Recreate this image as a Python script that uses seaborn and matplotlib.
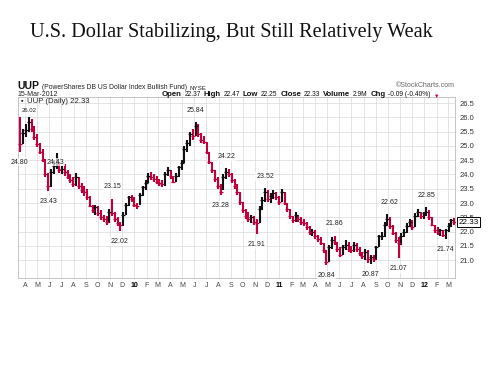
import pandas as pd
import numpy as np
import matplotlib
matplotlib.use("Agg")
import matplotlib.pyplot as plt
import seaborn as sns

# ── Données (barres hebdo) ────────────────────────────────────
hauts = [26.02, 25.60, 25.75, 26.00, 25.95, 25.70, 25.40, 25.10, 24.90, 24.55,
         24.05, 24.20, 24.50, 24.74, 24.45, 24.30, 24.35, 24.15, 24.00, 23.90,
         24.05, 23.90, 23.70, 23.60, 23.50, 23.25, 22.95, 22.95, 22.90, 22.75,
         22.60, 22.55, 22.80, 23.15, 22.70, 22.50, 22.35, 22.70, 23.00, 23.25,
         23.30, 23.20, 23.00, 23.35, 23.60, 23.80, 24.05, 24.10, 24.00, 23.95,
         23.85, 23.80, 24.10, 24.25, 24.15, 23.95, 24.05, 24.30, 24.50, 25.00,
         25.20, 25.50, 25.60, 25.84, 25.75, 25.45, 25.35, 25.15, 24.80, 24.45,
         24.15, 23.90, 23.65, 24.00, 24.22, 24.20, 24.05, 23.85, 23.65, 23.40,
         23.05, 22.80, 22.70, 22.60, 22.55, 22.45, 22.90, 23.20, 23.52, 23.45,
         23.35, 23.45, 23.40, 23.25, 23.50, 23.40, 23.00, 22.80, 22.55, 22.70,
         22.60, 22.50, 22.45, 22.35, 22.20, 22.10, 22.05, 21.90, 21.80, 21.60,
         21.35, 21.55, 21.80, 21.86, 21.65, 21.45, 21.55, 21.70, 21.65, 21.50,
         21.65, 21.60, 21.45, 21.30, 21.40, 21.35, 21.20, 21.20, 21.50, 21.90,
         22.00, 22.35, 22.62, 22.50, 22.25, 22.00, 21.80, 21.95, 22.10, 22.30,
         22.45, 22.40, 22.65, 22.80, 22.70, 22.70, 22.85, 22.75, 22.50, 22.25,
         22.15, 22.10, 22.05, 22.10, 22.30, 22.45, 22.47]
bas = [24.80, 25.05, 25.30, 25.50, 25.50, 25.20, 24.95, 24.70, 24.43, 23.90,
       23.43, 23.55, 24.00, 24.20, 24.05, 24.00, 23.95, 23.85, 23.70, 23.55,
       23.60, 23.50, 23.35, 23.25, 23.10, 22.85, 22.65, 22.60, 22.55, 22.40,
       22.35, 22.25, 22.30, 22.55, 22.35, 22.20, 22.02, 22.20, 22.60, 22.90,
       23.05, 22.85, 22.80, 22.95, 23.25, 23.45, 23.70, 23.80, 23.75, 23.65,
       23.60, 23.55, 23.60, 23.95, 23.85, 23.70, 23.75, 23.90, 24.15, 24.40,
       24.80, 25.00, 25.20, 25.35, 25.30, 25.10, 25.05, 24.70, 24.35, 24.05,
       23.75, 23.50, 23.28, 23.45, 23.85, 23.90, 23.70, 23.50, 23.30, 22.95,
       22.65, 22.45, 22.35, 22.30, 22.25, 21.91, 22.30, 22.75, 23.05, 23.05,
       23.00, 23.15, 23.10, 22.95, 23.05, 22.95, 22.70, 22.45, 22.30, 22.35,
       22.35, 22.25, 22.20, 22.05, 21.90, 21.85, 21.75, 21.65, 21.55, 21.25,
       20.84, 20.95, 21.40, 21.55, 21.30, 21.10, 21.20, 21.35, 21.30, 21.25,
       21.30, 21.30, 21.15, 21.05, 21.00, 20.90, 20.87, 20.95, 21.00, 21.45,
       21.70, 21.80, 22.20, 22.10, 21.90, 21.60, 21.07, 21.55, 21.80, 21.95,
       22.15, 22.05, 22.15, 22.50, 22.45, 22.45, 22.55, 22.40, 22.20, 21.95,
       21.90, 21.85, 21.80, 21.74, 22.00, 22.15, 22.25]
clotures = [25.05, 25.45, 25.55, 25.85, 25.60, 25.30, 25.05, 24.80, 24.50, 24.00,
            23.60, 24.10, 24.30, 24.40, 24.15, 24.20, 24.10, 23.90, 23.80, 23.65,
            23.90, 23.60, 23.45, 23.40, 23.20, 22.90, 22.75, 22.85, 22.65, 22.50,
            22.45, 22.35, 22.70, 22.65, 22.45, 22.30, 22.25, 22.60, 22.95, 23.20,
            23.15, 22.95, 22.90, 23.30, 23.55, 23.70, 23.95, 23.90, 23.85, 23.75,
            23.70, 23.65, 24.00, 24.15, 23.95, 23.75, 23.95, 24.25, 24.40, 24.90,
            25.10, 25.40, 25.35, 25.70, 25.40, 25.20, 25.15, 24.80, 24.45, 24.15,
            23.85, 23.60, 23.40, 23.90, 24.10, 24.00, 23.80, 23.60, 23.40, 23.05,
            22.75, 22.55, 22.45, 22.50, 22.35, 22.30, 22.80, 23.10, 23.40, 23.15,
            23.25, 23.35, 23.20, 23.05, 23.40, 23.00, 22.80, 22.55, 22.40, 22.60,
            22.45, 22.35, 22.30, 22.15, 22.00, 22.00, 21.85, 21.75, 21.60, 21.35,
            20.95, 21.45, 21.70, 21.65, 21.40, 21.20, 21.45, 21.55, 21.40, 21.35,
            21.55, 21.40, 21.25, 21.15, 21.30, 21.05, 21.10, 21.05, 21.45, 21.85,
            21.85, 22.25, 22.45, 22.20, 21.95, 21.70, 21.60, 21.85, 22.00, 22.20,
            22.35, 22.15, 22.55, 22.70, 22.55, 22.65, 22.70, 22.50, 22.25, 22.05,
            22.00, 22.05, 21.90, 22.05, 22.20, 22.40, 22.33]
semaines = list(pd.date_range("2009-03-20", periods=156, freq="W-FRI")) + [pd.Timestamp("2012-03-15")]

# étiquettes des extrêmes
ann_valeurs = [26.02, 24.80, 24.43, 23.43, 23.15, 22.02, 25.84, 24.22, 23.28,
               23.52, 21.91, 21.86, 20.84, 20.87, 22.62, 21.07, 22.85, 21.74]
ann_dates = ["2009-04-10", "2009-03-18", "2009-05-15", "2009-05-29", "2009-11-06",
             "2009-11-25", "2010-06-04", "2010-08-20", "2010-08-06", "2010-11-26",
             "2010-11-04", "2011-05-20", "2011-04-29", "2011-08-19", "2011-10-04",
             "2011-10-27", "2012-01-06", "2012-02-24"]
ann_sens = ["colle", "bas", "droite", "bas", "haut", "bas", "haut", "haut", "bas",
            "haut", "bas", "haut", "bas", "bas", "haut", "bas", "haut", "bas"]

mois_labels = ["A", "M", "J", "J", "A", "S", "O", "N", "D", "10", "F", "M",
               "A", "M", "J", "J", "A", "S", "O", "N", "D", "11", "F", "M",
               "A", "M", "J", "J", "A", "S", "O", "N", "D", "12", "F", "M"]
y_ticks = [21.0, 21.5, 22.0, 22.5, 23.0, 23.5, 24.0, 24.5, 25.0, 25.5, 26.0, 26.5]

df = pd.DataFrame({"date": semaines, "haut": hauts, "bas": bas, "cloture": clotures})
# la première barre part du haut de la semaine
df["prec"] = df["cloture"].shift(1).fillna(df["haut"].iloc[0])
df["sens"] = np.where(df["cloture"] >= df["prec"], "hausse", "baisse")

ROUGE = "#c3003c"
NOIR = "#111111"

# ── Figure ────────────────────────────────────────────────
sns.set_theme(style="white")
plt.rcParams["font.family"] = ["Liberation Sans", "DejaVu Sans"]

W, H = 490, 367
fig = plt.figure(figsize=(W / 100, H / 100), dpi=100)
fig.patch.set_facecolor("white")

def px(x, y):
    return x / W, 1 - y / H

ax = fig.add_axes([18 / W, 1 - 278 / H, (455 - 18) / W, (278 - 97) / H])

for sens, coul in [("hausse", NOIR), ("baisse", ROUGE)]:
    d = df[df["sens"] == sens]
    ax.vlines(d["date"], d["bas"], d["haut"], color=coul, lw=1.5, zorder=3)
    sns.scatterplot(x=d["date"], y=d["cloture"], marker="_", s=7, color=coul,
                    linewidth=0.9, ax=ax, zorder=4, legend=False)

ax.set_xlim(pd.Timestamp("2009-03-14"), pd.Timestamp("2012-03-18"))
ax.set_ylim(20.38, 26.71)
ax.set_xlabel("")
ax.set_ylabel("")

# grille
mois = pd.date_range("2009-04-01", periods=36, freq="MS")
ax.set_xticks(mois)
ax.set_xticklabels(mois_labels)
for lab in ax.get_xticklabels():
    if lab.get_text() in ("10", "11", "12"):
        lab.set_fontweight("bold")
        lab.set_color("#000000")
    else:
        lab.set_color("#444444")
ax.tick_params(axis="x", labelsize=5, length=0, pad=3)
ax.yaxis.tick_right()
ax.set_yticks(y_ticks)
ax.set_yticklabels([f"{v:.1f}" for v in y_ticks])
ax.tick_params(axis="y", labelsize=5.5, length=0, pad=3, labelcolor="#333333")
ax.grid(True, color="#d9d9d9", lw=0.5)
for s in ax.spines.values():
    s.set_color("#bbbbbb")
    s.set_linewidth(0.6)

# étiquettes de valeurs
decal = {"haut": (0, 6, "center", "bottom"), "bas": (0, -5, "center", "top"),
         "droite": (3, 0, "left", "center"), "colle": (0, 2.5, "center", "bottom")}
for v, d, s in zip(ann_valeurs, ann_dates, ann_sens):
    dx, dy, ha, va = decal[s]
    taille = 4.3 if s == "colle" else 5
    ax.annotate(f"{v:.2f}", xy=(pd.Timestamp(d), v), xytext=(dx, dy),
                textcoords="offset points", ha=ha, va=va, fontsize=taille,
                color="#222222", zorder=5, annotation_clip=False,
                bbox=dict(boxstyle="square,pad=0.1", fc="white", ec="none", alpha=0.7))

# légende interne
ax.text(0.006, 0.997, "\u25aa", transform=ax.transAxes, fontsize=5, va="top", color="#222222",
        zorder=6)
ax.text(0.02, 0.997, f"UUP (Daily) {clotures[-1]:.2f}", transform=ax.transAxes,
        fontsize=5.6, va="top", color="#222222", zorder=6)

# dernier cours encadré
ax.annotate(f"{clotures[-1]:.2f}", xy=(1, clotures[-1]), xycoords=("axes fraction", "data"),
            xytext=(2.5, 0), textcoords="offset points", ha="left", va="center",
            fontsize=5.8, color="#000000", annotation_clip=False, zorder=10,
            bbox=dict(boxstyle="square,pad=0.2", fc="white", ec="#000000", lw=0.7))

# ── Textes d'en-tête ──────────────────────────────────────
fig.text(*px(30, 33), "U.S. Dollar Stabilizing, But Still Relatively Weak",
         family=["Liberation Serif", "DejaVu Serif"], fontsize=14.6, color="#111111",
         ha="left", va="center")

t = fig.text(*px(17, 89), "UUP", fontsize=7.5, fontweight="bold", color="#111111",
             ha="left", va="baseline")
t2 = ax.annotate("(PowerShares DB US Dollar Index Bullish Fund)", xy=(1, 0), xycoords=t,
                 xytext=(2, 0), textcoords="offset points", fontsize=4.9, color="#222222",
                 va="bottom", ha="left")
ax.annotate("NYSE", xy=(1, 0), xycoords=t2, xytext=(2, 0), textcoords="offset points",
            fontsize=4.5, color="#222222", va="bottom", ha="left")
fig.text(*px(17, 96), "15-Mar-2012", fontsize=5, color="#222222", ha="left", va="baseline")
fig.text(*px(455, 87), "\u00a9StockCharts.com", fontsize=5, color="#666666",
         ha="right", va="baseline")

entete = [("Open", True), ("22.37", False), ("High", True), ("22.47", False),
          ("Low", True), ("22.25", False), ("Close", True), ("22.33", False),
          ("Volume", True), ("2.9M", False), ("Chg", True), ("-0.09 (-0.40%)", False)]
prev = None
for mot, gras in entete:
    taille = 5.6 if gras else 4.8
    poids = "bold" if gras else "normal"
    if prev is None:
        prev = fig.text(*px(162, 96.5), mot, fontsize=taille, fontweight=poids,
                        color="#111111", ha="left", va="baseline")
        continue
    prev = ax.annotate(mot, xy=(1, 0), xycoords=prev, xytext=(2.0, 0),
                       textcoords="offset points", va="bottom", ha="left",
                       fontsize=taille, fontweight=poids, color="#111111")
ax.annotate("\u25bc", xy=(1, 0), xycoords=prev, xytext=(2, 0), textcoords="offset points",
            va="bottom", ha="left", fontsize=4, color=ROUGE)

fig.savefig("out.png", dpi=100)
